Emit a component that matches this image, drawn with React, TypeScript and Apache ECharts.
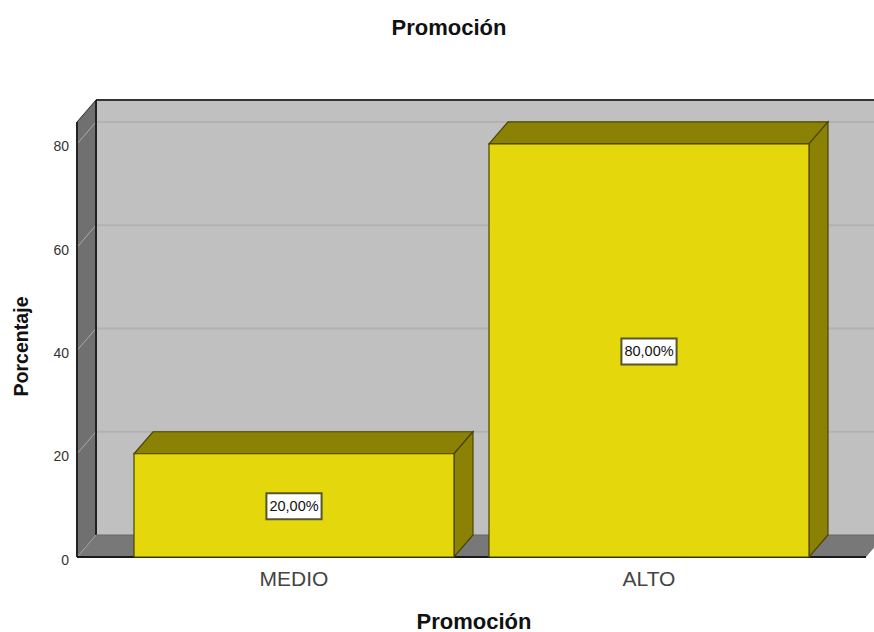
import React, { useEffect, useRef } from "react";
import * as echarts from "echarts";

const categories = ["MEDIO", "ALTO"];
const percentages = [20, 80];
const valueLabels = ["20,00%", "80,00%"];
const gridValues = [0, 20, 40, 60, 80];

const AXIS_MAX = 84.25;
const DEPTH_X = 19;
const DEPTH_Y = 22;
const BAR_FILL = "#e4d80c";
const BAR_SHADE = "#8b8105";
const BAR_EDGE = "#4a4500";
const FONT = '"Liberation Sans", Arial, sans-serif';

// Back wall, side wall and floor of the pseudo-3D plot box.
function renderBox(params: any, api: any) {
  const sys = params.coordSys;
  const yBase = api.coord([0, 0])[1];
  const yTop = sys.y;
  const xFront = 77;
  const xEnd = 866;
  const xBack = xFront + DEPTH_X;
  const wallTop = yTop - DEPTH_Y;
  const wallBase = yBase - DEPTH_Y;
  const children: any[] = [
    { type: "rect", shape: { x: xBack, y: wallTop, width: 800, height: wallBase - wallTop }, style: { fill: "#c0c0c0" } },
    {
      type: "polygon",
      shape: { points: [[xFront, yTop], [xBack, wallTop], [xBack, wallBase], [xFront, yBase]] },
      style: { fill: "#707070", stroke: "#2a2a2a", lineWidth: 1 },
    },
    {
      type: "polygon",
      shape: { points: [[xFront, yBase], [xBack, wallBase], [xEnd + DEPTH_X, wallBase], [xEnd, yBase]] },
      style: { fill: "#787878" },
    },
  ];
  gridValues.forEach((v) => {
    const y = api.coord([0, v])[1];
    if (v > 0) {
      children.push({
        type: "line",
        shape: { x1: xBack, y1: y - DEPTH_Y, x2: 880, y2: y - DEPTH_Y },
        style: { stroke: "#b2b2b2", lineWidth: 2 },
      });
    }
    children.push({
      type: "line",
      shape: { x1: xFront, y1: y, x2: xBack, y2: y - DEPTH_Y },
      style: { stroke: "#ababab", lineWidth: 1 },
    });
  });
  children.push(
    { type: "line", shape: { x1: xBack, y1: wallTop, x2: 880, y2: wallTop }, style: { stroke: "#333333", lineWidth: 2 } },
    { type: "line", shape: { x1: xBack, y1: wallTop, x2: xBack, y2: wallBase }, style: { stroke: "#222222", lineWidth: 2 } },
    { type: "line", shape: { x1: xBack, y1: wallBase, x2: 880, y2: wallBase }, style: { stroke: "#666666", lineWidth: 1 } },
    { type: "line", shape: { x1: xFront, y1: yTop, x2: xFront, y2: yBase }, style: { stroke: "#222222", lineWidth: 2 } },
    { type: "line", shape: { x1: xFront, y1: yBase, x2: xEnd, y2: yBase }, style: { stroke: "#1a1a1a", lineWidth: 2 } },
  );
  return { type: "group", children };
}

// One extruded bar: front face, top and side faces, and its boxed value label.
function renderBar(_params: any, api: any) {
  const idx = api.value(0);
  const top = api.coord([idx, api.value(1)]);
  const base = api.coord([idx, 0]);
  const half = (api.size([1, 0])[0] * 0.9014) / 2;
  const l = top[0] - half;
  const r = top[0] + half;
  const edge = { stroke: BAR_EDGE, lineWidth: 1.2 };
  return {
    type: "group",
    children: [
      {
        type: "polygon",
        shape: { points: [[l, top[1]], [l + DEPTH_X, top[1] - DEPTH_Y], [r + DEPTH_X, top[1] - DEPTH_Y], [r, top[1]]] },
        style: { fill: BAR_SHADE, ...edge },
      },
      {
        type: "polygon",
        shape: { points: [[r, top[1]], [r + DEPTH_X, top[1] - DEPTH_Y], [r + DEPTH_X, base[1] - DEPTH_Y], [r, base[1]]] },
        style: { fill: BAR_SHADE, ...edge },
      },
      { type: "rect", shape: { x: l, y: top[1], width: r - l, height: base[1] - top[1] }, style: { fill: BAR_FILL, ...edge } },
      {
        type: "text",
        x: top[0],
        y: (top[1] + base[1]) / 2 + 1,
        style: {
          text: valueLabels[idx],
          font: `14.5px ${FONT}`,
          fill: "#111111",
          align: "center",
          verticalAlign: "middle",
          backgroundColor: "#ffffff",
          borderColor: "#55552f",
          borderWidth: 2,
          padding: [5, 2, 4, 2],
        },
      },
    ],
  };
}

export default function App() {
  const ref = useRef<HTMLDivElement>(null);
  useEffect(() => {
    document.body.style.margin = "0";
    const chart = echarts.init(ref.current!, null, { renderer: "svg" });
    chart.setOption({
      animation: false,
      backgroundColor: "#ffffff",
      title: {
        text: "Promoción",
        left: 449,
        top: 11,
        textAlign: "center",
        padding: [5, 10, 5, 0],
        textStyle: { fontFamily: FONT, fontSize: 22, fontWeight: "bold", color: "#111111" },
      },
      grid: { left: 116.5, width: 710, top: 122, height: 435, outerBoundsMode: "none", containLabel: false },
      xAxis: {
        type: "category",
        data: categories,
        name: "Promoción",
        nameLocation: "middle",
        nameGap: 55,
        nameTextStyle: { fontFamily: FONT, fontSize: 22, lineHeight: 18, fontWeight: "bold", color: "#111111", padding: [0, 0, 0, 5] },
        axisLine: { show: false },
        axisTick: { show: false },
        axisLabel: { fontFamily: FONT, fontSize: 21, color: "#444444", margin: 11 },
      },
      yAxis: {
        type: "value",
        min: 0,
        max: AXIS_MAX,
        interval: 20,
        offset: 39.5,
        name: "Porcentaje",
        nameLocation: "middle",
        nameGap: 46,
        nameTextStyle: { fontFamily: FONT, fontSize: 19.6, fontWeight: "bold", color: "#111111", padding: [0, 14, 0, 0] },
        axisLine: { show: false },
        axisTick: { show: false },
        splitLine: { show: false },
        axisLabel: { fontFamily: FONT, fontSize: 14, color: "#333333", margin: 8, showMaxLabel: false, verticalAlign: "top", lineHeight: 5 },
      },
      series: [
        { type: "custom", data: [[0, 0]], renderItem: renderBox, silent: true, z: 1 },
        { type: "custom", data: percentages.map((v, i) => [i, v]), renderItem: renderBar, silent: true, z: 2 },
      ],
    });
    return () => chart.dispose();
  }, []);
  return <div ref={ref} style={{ width: 874, height: 632 }} />;
}
